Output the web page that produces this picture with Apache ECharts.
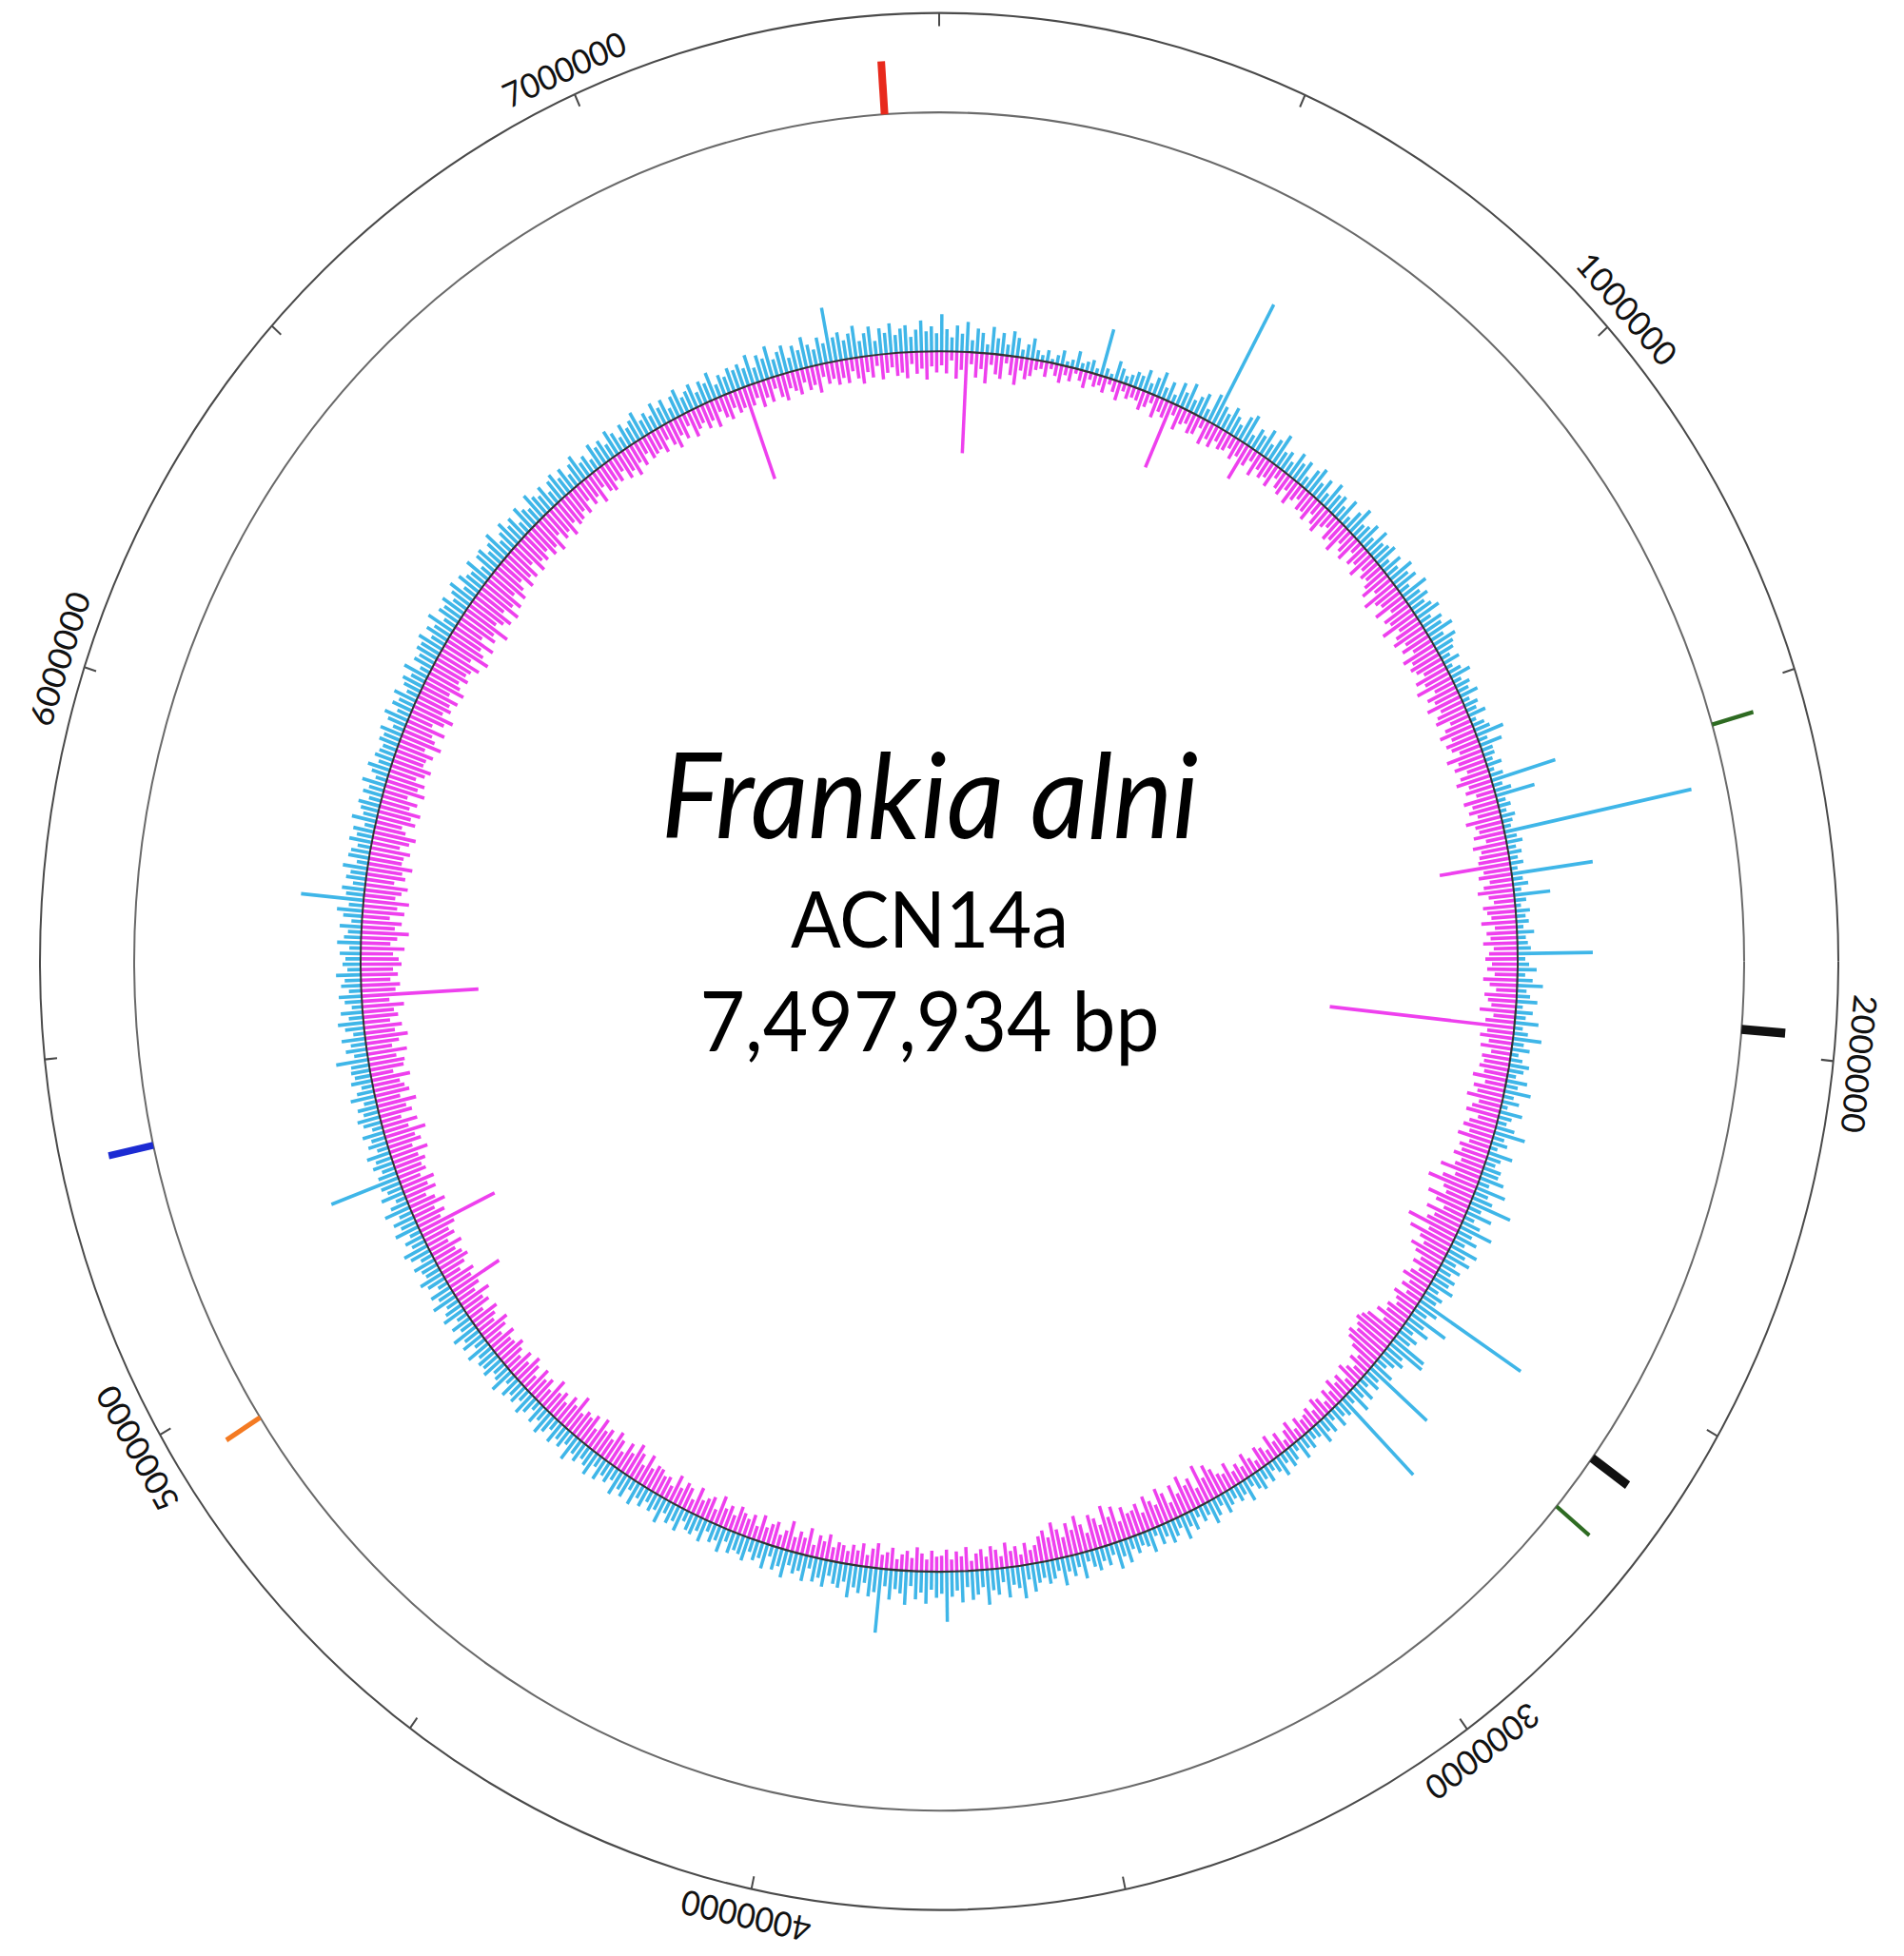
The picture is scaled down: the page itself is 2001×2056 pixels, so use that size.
<!DOCTYPE html>
<html>
<head>
<meta charset="utf-8">
<title>Frankia alni ACN14a</title>
<script src="https://cdn.jsdelivr.net/npm/echarts@6/dist/echarts.min.js"></script>
<style>
  html, body { margin: 0; padding: 0; background: #fff; overflow: hidden; }
  #wrap { width: 2001px; height: 2056px; overflow: hidden; }
  /* the source figure is slightly taller than wide, so the square plot is stretched vertically */
  #chart { width: 2001px; height: 1985px; transform: scaleY(1.055); transform-origin: 0 0; }
</style>
</head>
<body>
<div id="wrap"><div id="chart"></div></div>
<script>
const GENOME_LEN = 7497934;
const TICK_STEP = 500000;
const tickLabels = [1000000, 2000000, 3000000, 4000000, 5000000, 6000000, 7000000];

// coloured features on the second ring (bp position + kind)
const featurePos = [7417000, 1537000, 1970000, 2620000, 2706000, 4947000, 5363000];
const featureKind = ['red', 'green', 'black', 'black', 'green', 'orange', 'blue'];

// inner ring, 720 windows clockwise from 0 bp; one row = 10 degrees
const gcOut = [
  37,22,14,26,18,30,12,24,20,9,27,16,22,11,25,19,8,14,21,10,
  6,12,4,9,15,5,8,18,7,10,13,6,48,9,5,20,14,8,11,16,
  14,22,10,18,26,12,20,9,24,16,28,13,19,25,11,30,135,22,17,27,
  20,14,26,31,12,22,18,28,15,24,33,17,21,13,27,19,25,11,23,29,
  16,24,12,28,19,22,14,26,10,21,30,15,18,25,13,27,17,20,24,11,
  22,14,28,19,25,12,30,18,24,16,21,27,13,23,19,29,15,26,20,17,
  10,18,7,14,22,9,16,12,20,8,15,11,19,6,13,17,30,10,24,12,
  12,8,16,6,14,70,10,18,42,9,13,7,15,11,8,201,12,17,9,14,
  9,14,7,86,11,16,8,38,12,6,15,10,13,7,18,9,11,14,79,8,
  12,20,8,16,27,10,14,22,7,18,11,25,9,15,30,12,19,8,13,21,
  16,9,22,13,28,11,18,7,24,14,10,20,33,12,17,8,26,15,11,19,
  18,26,12,32,15,22,45,14,28,11,20,36,16,24,13,30,19,27,14,22,
  14,22,18,26,12,20,16,127,24,15,43,19,28,13,22,17,40,42,20,25,
  18,12,24,79,15,20,10,22,14,26,11,106,17,13,21,9,19,14,23,12,
  10,17,13,21,8,15,19,11,22,14,9,18,12,20,16,10,23,13,17,11,
  15,21,10,18,24,12,16,9,20,14,25,11,17,22,13,19,8,23,15,12,
  18,12,24,16,27,11,20,14,22,17,10,26,13,21,15,28,12,19,23,16,
  20,28,15,33,22,18,30,14,26,21,35,17,24,29,16,31,19,25,50,22,
  26,18,32,21,28,15,34,23,19,30,17,64,24,29,16,27,22,33,18,25,
  22,15,27,19,24,12,26,17,21,14,28,18,23,11,25,16,20,13,24,19,
  17,22,12,25,15,19,10,23,14,20,18,11,24,16,21,13,26,15,19,12,
  20,14,24,11,22,17,26,13,19,15,23,12,25,18,14,21,16,27,13,20,
  15,23,12,19,25,14,21,10,18,24,13,20,16,22,11,26,17,14,23,19,
  21,16,26,13,24,18,28,15,22,12,25,19,14,27,17,23,11,20,26,16,
  18,24,13,22,27,15,20,12,26,17,23,14,28,19,11,25,16,21,75,20,
  14,22,17,25,12,20,15,23,11,19,24,16,21,13,26,18,12,22,17,20,
  19,34,14,22,16,25,12,20,27,15,23,11,18,24,13,21,17,26,14,19,
  16,22,12,25,18,14,23,11,20,27,15,66,19,24,13,21,17,26,12,22,
  20,14,24,17,22,11,26,15,19,23,13,21,16,25,12,18,24,14,20,17,
  15,21,18,24,12,20,26,14,22,17,25,13,19,23,16,27,11,21,18,24,
  22,28,16,25,19,30,14,24,21,27,17,23,29,15,26,20,18,28,13,24,
  26,17,23,30,15,21,28,19,24,13,27,20,16,29,22,18,25,14,23,27,
  18,25,14,22,28,16,20,12,26,19,23,15,27,21,13,24,17,22,28,16,
  21,15,26,18,24,12,22,27,16,20,25,14,23,19,28,13,21,17,24,20,
  24,18,30,15,26,21,32,17,23,28,14,25,19,31,22,16,27,20,55,24,
  28,19,25,32,16,23,29,14,26,21,30,18,24,27,15,22,31,20,25,18
];
const gcIn = [
  14,22,9,27,18,101,12,25,16,30,11,20,24,8,19,28,13,21,17,10,
  8,15,6,12,18,9,14,5,11,17,7,13,10,16,6,12,19,8,14,11,
  12,20,15,9,22,14,18,70,11,24,16,13,21,19,10,25,17,23,14,20,
  18,13,22,16,39,20,12,25,15,21,17,24,11,19,23,14,26,18,13,22,
  20,26,15,23,28,18,14,25,21,30,16,22,27,13,24,19,29,17,23,20,
  26,33,21,38,28,24,35,19,31,27,40,23,30,36,25,32,22,37,29,34,
  30,24,36,28,40,22,33,27,38,25,31,35,21,29,37,26,34,30,23,39,
  28,34,22,31,37,25,30,20,35,27,32,24,38,29,26,33,21,36,28,31,
  33,75,29,35,24,31,38,27,22,34,30,26,37,23,32,28,36,25,30,34,
  27,32,24,36,29,22,34,30,26,38,23,31,195,28,35,25,33,21,30,27,
  31,25,36,22,33,28,38,24,30,35,21,29,34,26,37,23,32,28,35,25,
  30,44,26,38,52,33,28,46,35,24,41,30,36,55,29,48,34,27,39,31,
  22,28,18,25,31,20,26,17,29,23,19,27,24,33,21,38,42,45,40,36,
  43,39,30,18,24,14,20,26,12,22,17,25,15,21,11,19,23,13,20,16,
  14,20,11,23,17,9,21,15,25,12,18,22,10,16,24,13,19,14,26,17,
  20,28,35,24,40,18,31,26,38,22,33,17,29,36,21,27,34,19,30,25,
  24,32,19,36,27,40,22,30,35,18,28,38,25,33,20,29,37,23,31,26,
  18,14,22,11,20,16,25,12,19,23,13,21,17,10,24,15,20,12,22,16,
  15,21,12,18,24,13,20,16,11,22,17,14,25,19,12,23,15,20,13,18,
  20,14,26,18,23,12,28,17,22,15,30,19,13,25,21,16,27,14,24,18,
  22,27,16,24,19,30,14,25,21,17,28,13,23,26,18,29,15,22,20,25,
  26,20,32,18,28,35,22,30,17,27,33,21,29,24,34,19,31,25,28,22,
  38,24,30,19,27,22,33,17,26,21,29,16,25,31,20,28,18,24,30,23,
  22,30,18,27,33,20,25,31,17,28,24,35,21,29,58,26,32,19,27,34,
  30,25,35,22,32,28,37,87,26,33,24,38,29,21,34,27,36,23,31,28,
  34,28,40,25,36,31,44,27,38,22,35,30,42,26,37,33,29,41,24,36,
  38,30,42,27,35,45,32,40,28,37,33,44,29,123,36,41,31,39,34,43,
  40,34,46,31,38,50,35,42,29,44,36,48,33,39,45,30,41,37,47,35,
  36,42,30,39,45,33,28,41,35,44,31,38,26,43,34,40,29,37,42,32,
  33,39,28,44,35,30,42,26,37,45,31,38,34,41,29,43,36,32,40,35,
  38,45,32,50,41,35,47,30,43,38,52,34,40,46,33,48,37,44,31,42,
  35,28,40,32,37,25,38,30,34,27,36,31,39,24,33,29,37,26,32,30,
  24,30,19,27,22,32,18,26,29,21,25,17,28,23,31,20,26,16,24,22,
  20,26,15,23,29,18,24,13,27,21,17,25,19,28,14,22,26,16,23,20,
  97,21,15,26,18,24,12,22,27,16,20,25,14,23,19,28,13,21,17,24,
  18,24,13,21,27,16,22,11,25,19,14,23,20,26,12,22,17,28,15,21
];
if (gcOut.length !== 720 || gcIn.length !== 720) throw new Error('bins: ' + gcOut.length + ' / ' + gcIn.length);

const CENTER = [987, 958];
const R_OUTER = 945, R_RING = 846, R_LABEL = 973, R_BASE = 608;
const CYAN = '#3fb6e8', MAGENTA = '#ee40ee';
const KIND_STYLE = {
  red:    { color: '#e8291c', width: 8, len: 53 },
  green:  { color: '#2e6b22', width: 4, len: 45 },
  black:  { color: '#111111', width: 9, len: 46 },
  orange: { color: '#f47a22', width: 5, len: 42 },
  blue:   { color: '#1c2bd3', width: 7, len: 48 }
};

const HIDE = { axisLine: { show: false }, axisTick: { show: false }, axisLabel: { show: false }, splitLine: { show: false } };
function angleAxis(polarIndex, extra) {
  return Object.assign({ polarIndex, type: 'value', min: 0, max: GENOME_LEN, startAngle: 90, clockwise: true }, HIDE, extra || {});
}
function radiusAxis(polarIndex, min, max) {
  return Object.assign({ polarIndex, type: 'value', min, max }, HIDE);
}

function radialLines(values, sign, color, polarIndex) {
  const bin = GENOME_LEN / values.length;
  return {
    type: 'custom', coordinateSystem: 'polar', polarIndex, silent: true, z: 2,
    data: values.map((v, i) => [sign * v, (i + 0.5) * bin]),
    renderItem(params, api) {
      const a = api.value(1);
      const p0 = api.coord([0, a]);
      const p1 = api.coord([api.value(0), a]);
      return { type: 'line', shape: { x1: p0[0], y1: p0[1], x2: p1[0], y2: p1[1] },
        style: { stroke: color, lineWidth: 3.5, lineCap: 'butt' } };
    }
  };
}

const chart = echarts.init(document.getElementById('chart'), null, { renderer: 'svg' });
chart.setOption({
  animation: false,
  backgroundColor: '#ffffff',
  textStyle: { fontFamily: 'Lato, sans-serif' },
  polar: [
    { center: CENTER, radius: [0, R_OUTER] },        // 0 outer scale ring
    { center: CENTER, radius: [0, R_RING] },         // 1 feature ring circle
    { center: CENTER, radius: [R_RING, R_LABEL] },   // 2 features + tick labels (1 unit = 1 px)
    { center: CENTER, radius: [0, R_BASE] },         // 3 baseline circle of inner plot
    { center: CENTER, radius: [R_BASE - 250, R_BASE + 250] } // 4 inner plot
  ],
  angleAxis: [
    angleAxis(0, {
      interval: TICK_STEP,
      axisLine: { show: true, lineStyle: { color: '#4a4a4a', width: 2 } },
      axisTick: { show: true, inside: true, length: 13, lineStyle: { color: '#4a4a4a', width: 2 } }
    }),
    angleAxis(1, { axisLine: { show: true, lineStyle: { color: '#6a6a6a', width: 2 } } }),
    angleAxis(2),
    angleAxis(3, { z: 10, axisLine: { show: true, lineStyle: { color: '#333333', width: 2 } } }),
    angleAxis(4)
  ],
  radiusAxis: [
    radiusAxis(0, 0, 1),
    radiusAxis(1, 0, 1),
    radiusAxis(2, 0, R_LABEL - R_RING),
    radiusAxis(3, 0, 1),
    radiusAxis(4, -250, 250)
  ],
  graphic: [
    { type: 'text', x: 977, y: 789, style: { text: 'Frankia alni', font: 'italic 118px Lato', fill: '#000',
      textAlign: 'center', textVerticalAlign: 'middle', align: 'center', verticalAlign: 'middle' } },
    { type: 'text', x: 977, y: 914, style: { text: 'ACN14a', font: '78px Lato', fill: '#000',
      textAlign: 'center', textVerticalAlign: 'middle', align: 'center', verticalAlign: 'middle' } },
    { type: 'text', x: 977, y: 1016, style: { text: '7,497,934 bp', font: '82px Lato', fill: '#000',
      textAlign: 'center', textVerticalAlign: 'middle', align: 'center', verticalAlign: 'middle' } }
  ],
  series: [
    radialLines(gcOut, 1, CYAN, 4),
    radialLines(gcIn, -1, MAGENTA, 4),
    {
      type: 'custom', coordinateSystem: 'polar', polarIndex: 2, silent: true, z: 3,
      data: featurePos.map((p, i) => [KIND_STYLE[featureKind[i]].len, p, i]),
      renderItem(params, api) {
        const st = KIND_STYLE[featureKind[api.value(2)]];
        const a = api.value(1);
        const p0 = api.coord([0, a]);
        const p1 = api.coord([api.value(0), a]);
        return { type: 'line', shape: { x1: p0[0], y1: p0[1], x2: p1[0], y2: p1[1] },
          style: { stroke: st.color, lineWidth: st.width, lineCap: 'butt' } };
      }
    },
    {
      type: 'custom', coordinateSystem: 'polar', polarIndex: 2, silent: true, z: 3,
      data: tickLabels.map(v => [R_LABEL - R_RING, v]),
      renderItem(params, api) {
        const v = api.value(1);
        const p = api.coord([api.value(0), v]);
        return { type: 'text', x: p[0], y: p[1], rotation: -v / GENOME_LEN * 2 * Math.PI,
          style: { text: String(v), font: '34px Lato', fill: '#111',
            textAlign: 'center', textVerticalAlign: 'middle', align: 'center', verticalAlign: 'middle' } };
      }
    }
  ]
});
</script>
</body>
</html>
